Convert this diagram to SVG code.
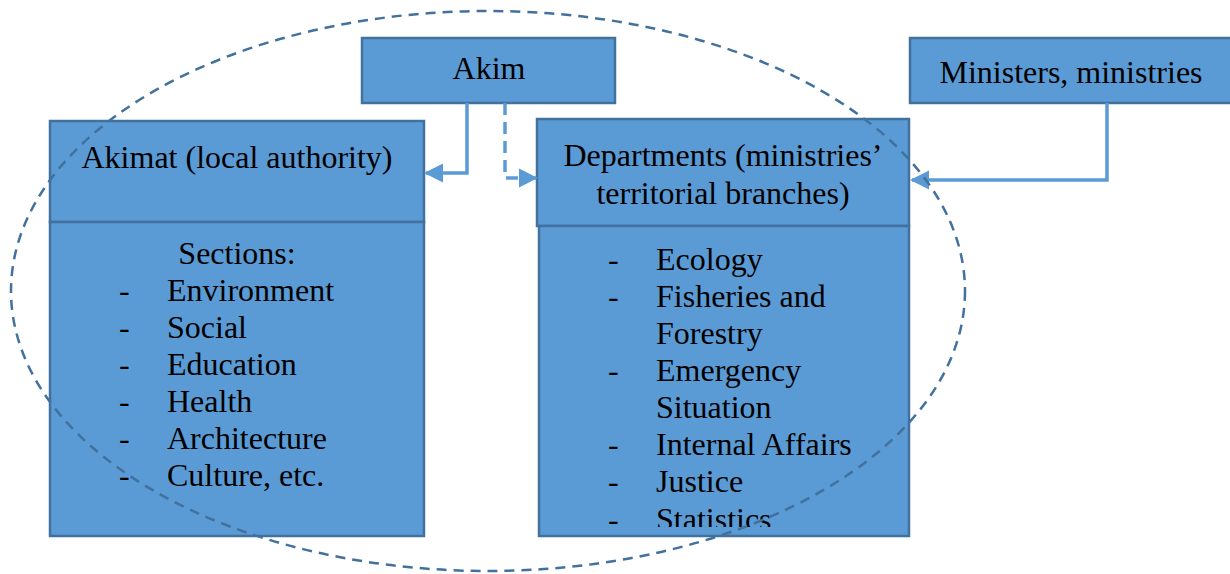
<svg xmlns="http://www.w3.org/2000/svg" width="1230" height="574" viewBox="0 0 1230 574">
  <style>
    .box { fill: #5b9bd5; stroke: #41719c; stroke-width: 2.5; }
    .t { font-family: "Liberation Serif", "Times New Roman", serif; font-size: 32px; fill: #000; }
    .c { text-anchor: middle; }
    .link { fill: none; stroke: #5b9bd5; stroke-width: 3.5; }
    .dash { stroke-dasharray: 12 7; }
  </style>
  <defs>
    <marker id="arrow" viewBox="0 0 10 10" refX="9" refY="5" markerWidth="5.5" markerHeight="5.5" markerUnits="strokeWidth" orient="auto">
      <path d="M0,0 L10,5 L0,10 Z" fill="#5b9bd5"/>
    </marker>
    <clipPath id="deptClip">
      <rect x="539" y="226" width="370" height="301"/>
    </clipPath>
  </defs>
  <rect width="1230" height="574" fill="#fff"/>

  <g id="akim">
    <rect class="box" x="362" y="38" width="253" height="65"/>
    <text class="t c" x="489" y="79">Akim</text>
  </g>

  <g id="ministers">
    <rect class="box" x="910" y="38" width="322" height="65"/>
    <text class="t c" x="1071" y="83">Ministers, ministries</text>
  </g>

  <g id="akimat">
    <rect class="box" x="50" y="121" width="374" height="101"/>
    <text class="t c" x="237" y="168">Akimat (local authority)</text>
    <rect class="box" x="50" y="222" width="374" height="314"/>
    <text class="t c" x="237" y="264">Sections:</text>
    <g class="t">
      <text x="119" y="301">-</text><text x="167" y="301">Environment</text>
      <text x="119" y="338">-</text><text x="167" y="338">Social</text>
      <text x="119" y="375">-</text><text x="167" y="375">Education</text>
      <text x="119" y="412">-</text><text x="167" y="412">Health</text>
      <text x="119" y="449">-</text><text x="167" y="449">Architecture</text>
      <text x="119" y="486">-</text><text x="167" y="486">Culture, etc.</text>
    </g>
  </g>

  <g id="departments">
    <rect class="box" x="537" y="119" width="372" height="107"/>
    <text class="t c" x="723" y="166">Departments (ministries’</text>
    <text class="t c" x="723" y="204">territorial branches)</text>
    <rect class="box" x="539" y="226" width="370" height="310"/>
    <g class="t" clip-path="url(#deptClip)">
      <text x="608" y="270">-</text><text x="656" y="270">Ecology</text>
      <text x="608" y="307">-</text><text x="656" y="307">Fisheries and</text>
      <text x="656" y="344">Forestry</text>
      <text x="608" y="381">-</text><text x="656" y="381">Emergency</text>
      <text x="656" y="418">Situation</text>
      <text x="608" y="455">-</text><text x="656" y="455">Internal Affairs</text>
      <text x="608" y="492">-</text><text x="656" y="492">Justice</text>
      <text x="608" y="530">-</text><text x="656" y="530">Statistics</text>
    </g>
  </g>

  <g id="connectors">
    <path class="link" d="M467,103 V173 H426" marker-end="url(#arrow)"/>
    <path class="link dash" d="M505,103 V178 H536" marker-end="url(#arrow)"/>
    <path class="link" d="M1107,103 V180 H912" marker-end="url(#arrow)"/>
  </g>

  <g id="boundary">
    <ellipse cx="488" cy="291" rx="477" ry="280" fill="none" stroke="#41719c" stroke-width="2.5" stroke-dasharray="10 7"/>
  </g>
</svg>
